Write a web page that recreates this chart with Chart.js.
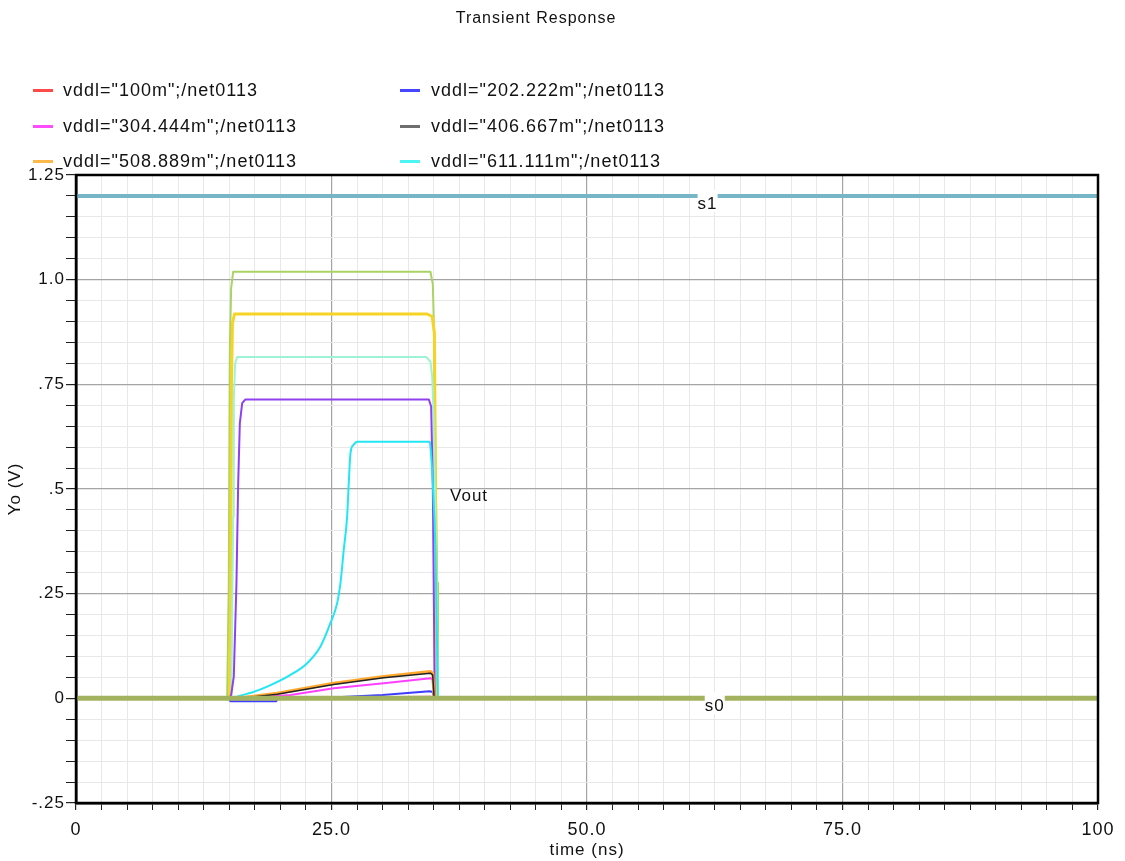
<!DOCTYPE html>
<html>
<head>
<meta charset="utf-8">
<script src="https://cdn.jsdelivr.net/npm/chart.js@4/dist/chart.umd.min.js"></script>
<style>
  html, body { margin: 0; padding: 0; background: #fff; }
  body { width: 1125px; height: 861px; position: relative; overflow: hidden;
         font-family: "Liberation Sans", Arial, sans-serif; color: #111; }
  #c { position: absolute; left: 0; top: 0; }
  #title { position: absolute; left: 0; width: 1072px; top: 8px; text-align: center;
           font-size: 16px; letter-spacing: 1px; line-height: 20px; }
  .lg { position: absolute; font-size: 18px; letter-spacing: 1px; line-height: 20px; white-space: nowrap; }
  .sw { position: absolute; height: 3px; }
</style>
</head>
<body>
<canvas id="c" width="1125" height="861"></canvas>
<div id="title">Transient Response</div>
<div id="legend"></div>
<script>
// ---------------- data (time in ns, voltage in V) ----------------
const seriesNames = [
  'vddl="100m";/net0113', 'vddl="202.222m";/net0113',
  'vddl="304.444m";/net0113', 'vddl="406.667m";/net0113',
  'vddl="508.889m";/net0113', 'vddl="611.111m";/net0113'
];
const legendColors = ['#ff4a4a', '#4646ff', '#ff4cff', '#6e6e6e', '#ffb84a', '#4cf4f4'];

const vdd100m = [[0,0],[15.0,0],[34.68,0.004],[35.0,0],[100,0]];
const vdd202m = [[0,0],[15.0,0],[15.1,-0.007],[19.6,-0.007],[19.7,0],[25,0.002],[30,0.008],[34.6,0.017],[34.9,0.015],[35.05,0],[100,0]];
const vdd304m = [[0,0],[15.2,0],[18,0.003],[20.99,0.008],[25.22,0.024],[30.11,0.036],[34.68,0.048],[34.9,0.045],[35.05,0],[100,0]];
const vdd406m = [[0,0],[15.2,0],[16.4,0.001],[19.68,0.010],[25.22,0.033],[30.11,0.049],[34.68,0.060],[34.9,0.056],[35.05,0],[100,0]];
const vdd508m = [[0,0],[15.2,0],[16.4,0.002],[19.68,0.012],[25.22,0.036],[30.11,0.052],[34.68,0.064],[34.9,0.060],[35.05,0],[100,0]];
const vdd611m = [[0,0],[15.4,0],[15.77,0.004],[17.2,0.014],[18.71,0.028],[20.99,0.056],[22.62,0.084],[23.92,0.124],[24.9,0.18],[25.56,0.228],[25.88,0.276],[26.2,0.355],[26.53,0.434],[26.69,0.515],[26.86,0.586],[27.18,0.606],[27.51,0.613],[34.61,0.613],[34.68,0.601],[34.91,0.514],[35.17,0.355],[35.34,0.116],[35.4,0],[100,0]];
const vdd713m = [[0,0],[15.0,0],[15.18,0.008],[15.44,0.052],[15.7,0.275],[15.87,0.514],[16.03,0.657],[16.26,0.705],[16.58,0.714],[34.52,0.714],[34.75,0.697],[34.91,0.514],[35.0,0.275],[35.1,0],[100,0]];
const vdd815m = [[0,0],[15.2,0],[15.38,0.434],[15.44,0.713],[15.57,0.80],[15.77,0.815],[34.29,0.815],[34.68,0.804],[34.85,0.769],[35.0,0.673],[35.27,0.276],[35.42,0],[100,0]];
const vdd917m = [[0,0],[15.0,0],[15.15,0.275],[15.21,0.753],[15.31,0.896],[15.51,0.918],[34.36,0.918],[34.85,0.912],[35.07,0.873],[35.17,0.515],[35.27,0.195],[35.34,0],[100,0]];
const vdd1020m = [[0,0],[14.79,0],[14.95,0.275],[15.05,0.83],[15.18,0.98],[15.38,1.019],[34.68,1.019],[34.91,0.99],[35.0,0.91],[35.17,0.59],[35.34,0.276],[35.42,0],[100,0]];
const s1Signal = [[0,1.2],[100,1.2]];
const s0Signal = [[0,0],[100,0]];

const xTickLabels = {0:'0', 25:'25.0', 50:'50.0', 75:'75.0', 100:'100'};
const yTickLabels = {'-25':'-.25', '0':'0', '25':'.25', '50':'.5', '75':'.75', '100':'1.0', '125':'1.25'};
const annotations = [
  {text:'s1', x:61.8, y:1.2, box:true},
  {text:'s0', x:62.5, y:0, box:true},
  {text:'Vout', x:36.6, y:0.5, box:false}
];

// ---------------- legend (HTML) ----------------
(function(){
  const lg = document.getElementById('legend');
  const rowsY = [90, 126, 161];
  const colSw = [33, 400], colTx = [63, 431];
  seriesNames.forEach((n,i)=>{
    const r = Math.floor(i/2), c = i%2;
    const sw = document.createElement('div');
    sw.className='sw'; sw.style.left=colSw[c]+'px'; sw.style.width='20px';
    sw.style.top=(rowsY[r]-1)+'px'; sw.style.background=legendColors[i];
    lg.appendChild(sw);
    const t = document.createElement('div');
    t.className='lg'; t.textContent=n; t.style.left=colTx[c]+'px'; t.style.top=(rowsY[r]-10)+'px';
    lg.appendChild(t);
  });
})();

// ---------------- chart ----------------
const toXY = a => a.map(p => ({x:p[0], y:p[1]}));
function ds(label, data, color, width, order, smooth){
  return {label, data: toXY(data), borderColor: color, backgroundColor: color,
          borderWidth: width, pointRadius: 0, tension: smooth ? 0.4 : 0, fill: false, order,
          cubicInterpolationMode: smooth ? 'monotone' : 'default',
          borderJoinStyle: 'round', borderCapStyle: 'butt'};
}

const spacingPlugin = {
  id: 'spacing',
  beforeUpdate(chart){ chart.ctx.letterSpacing = '1px'; },
  beforeDraw(chart){ chart.ctx.letterSpacing = '1px'; }
};
const framePlugin = {
  id: 'frame',
  afterDatasetsDraw(chart){
    const {ctx, scales} = chart;
    ctx.save();
    ctx.font = '17px "Liberation Sans"';
    ctx.letterSpacing = '1px';
    annotations.forEach(an=>{
      const px = scales.x.getPixelForValue(an.x), py = scales.y.getPixelForValue(an.y);
      if (an.box){
        ctx.fillStyle = '#fff';
        ctx.fillRect(px-10, py-6, 20, 22);
        ctx.fillStyle = '#111'; ctx.textAlign='center'; ctx.textBaseline='middle';
        ctx.fillText(an.text, px, py+8);
      } else {
        ctx.fillStyle = '#111'; ctx.textAlign='left'; ctx.textBaseline='middle';
        ctx.fillText(an.text, px, py+7);
      }
    });
    ctx.restore();
  },
  afterDraw(chart){
    const {ctx, chartArea:a} = chart;
    ctx.save();
    ctx.strokeStyle = '#000'; ctx.lineWidth = 2.5;
    ctx.strokeRect(a.left, a.top, a.right-a.left, a.bottom-a.top);
    ctx.restore();
  }
};

const isMajor = (v, step) => Math.abs(v/step - Math.round(v/step)) < 1e-6;

new Chart(document.getElementById('c'), {
  type: 'line',
  data: { datasets: [
    ds('s0', s0Signal, '#a3b25e', 5, 0),
    ds('s1', s1Signal, '#76b6c7', 4, 1),
    ds(seriesNames[3], vdd406m, '#222222', 1.5, 2),
    ds(seriesNames[4], vdd508m, '#ffa830', 3, 3),
    ds(seriesNames[2], vdd304m, '#ff40ff', 2, 4),
    ds(seriesNames[1], vdd202m, '#3c3cff', 2, 5),
    ds(seriesNames[0], vdd100m, '#ff4040', 2, 6),
    ds(seriesNames[5], vdd611m, '#22e6f2', 2, 7, true),
    ds('vddl="713.333m";/net0113', vdd713m, '#9040ee', 2, 8),
    ds('vddl="815.556m";/net0113', vdd815m, '#a0f2d4', 2, 9),
    ds('vddl="917.778m";/net0113', vdd917m, '#f6d424', 3, 10),
    ds('vddl="1.02";/net0113', vdd1020m, '#a9d363', 2, 11)
  ]},
  options: {
    responsive: false, animation: false, devicePixelRatio: 1,
    layout: { padding: { top: 175, right: 27, left: 0, bottom: 0 } },
    plugins: { legend: { display: false }, title: { display: false }, tooltip: { enabled: false } },
    scales: {
      x: {
        type: 'linear', min: 0, max: 100,
        afterFit: s => { s.height = 58; },
        border: { display: true, color: '#000', width: 2.5 },
        grid: {
          color: c => isMajor(c.tick.value, 25) ? '#a4a4a4' : '#e8e8e8',
          lineWidth: c => isMajor(c.tick.value, 25) ? 1.2 : 1,
          tickColor: '#222', tickLength: 7, drawTicks: true
        },
        ticks: {
          stepSize: 2.5, autoSkip: false, maxRotation: 0, padding: 9, color: '#111',
          font: { size: 18, family: 'Liberation Sans' },
          callback: v => { const k = Math.round(v*10)/10; return (k in xTickLabels) ? xTickLabels[k] : ''; }
        },
        title: { display: true, text: 'time (ns)', color: '#111',
                 font: { size: 17, family: 'Liberation Sans' }, padding: { top: 0, bottom: 0 } }
      },
      y: {
        type: 'linear', min: -0.25, max: 1.25,
        afterFit: s => { s.width = 76; },
        border: { display: true, color: '#000', width: 2.5 },
        grid: {
          color: c => isMajor(c.tick.value, 0.25) ? '#a4a4a4' : '#e8e8e8',
          lineWidth: c => isMajor(c.tick.value, 0.25) ? 1.2 : 1,
          tickColor: '#222', tickLength: 10, drawTicks: true
        },
        ticks: {
          stepSize: 0.05, autoSkip: false, padding: 1, color: '#111',
          font: { size: 17, family: 'Liberation Sans' },
          callback: v => { const k = String(Math.round(v*100)); return (k in yTickLabels) ? yTickLabels[k] : ''; }
        },
        title: { display: true, text: 'Yo (V)', color: '#111',
                 font: { size: 17, family: 'Liberation Sans' }, padding: { top: 5, bottom: 0 } }
      }
    }
  },
  plugins: [spacingPlugin, framePlugin]
});
</script>
</body>
</html>
